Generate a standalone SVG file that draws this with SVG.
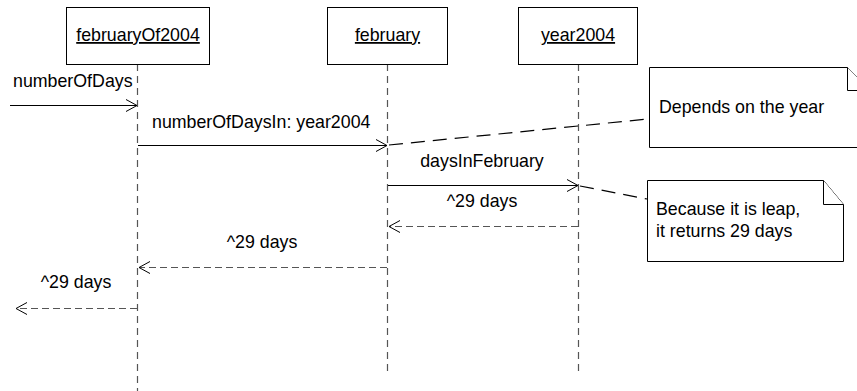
<svg xmlns="http://www.w3.org/2000/svg" width="857" height="391" viewBox="0 0 857 391">
<style>
text{font-family:"Liberation Sans",Arial,sans-serif;font-size:17.8px;fill:#000}
.box{fill:#fff;stroke:#000;stroke-width:1}
.life{stroke:#555;stroke-width:1.2;stroke-dasharray:7,5;fill:none}
.msg{stroke:#000;stroke-width:1;fill:none}
.ret{stroke:#555;stroke-width:1.2;stroke-dasharray:7,4;fill:none}
.anc{stroke:#000;stroke-width:1.2;stroke-dasharray:14,8;fill:none}
.head{stroke:#000;stroke-width:1;fill:none}
.note{fill:#fff;stroke:#000;stroke-width:1}
</style>
<defs>
<marker id="open" markerWidth="14" markerHeight="14" refX="12" refY="7" orient="auto" markerUnits="userSpaceOnUse">
<path d="M1,1 L12,7 L1,13" class="head"/>
</marker>
</defs>
<g id="lifelines">
<line class="life" x1="137.5" y1="64" x2="137.5" y2="391"/>
<line class="life" x1="387.5" y1="64" x2="387.5" y2="374"/>
<line class="life" x1="578.5" y1="64" x2="578.5" y2="373"/>
</g>
<g id="node-februaryOf2004">
<rect class="box" x="66.5" y="7.5" width="143" height="57"/>
<text x="138" y="41" text-anchor="middle" text-decoration="underline">februaryOf2004</text>
</g>
<g id="node-february">
<rect class="box" x="327.5" y="7.5" width="120" height="57"/>
<text x="387.5" y="41" text-anchor="middle" text-decoration="underline">february</text>
</g>
<g id="node-year2004">
<rect class="box" x="518.5" y="7.5" width="119" height="57"/>
<text x="578" y="41" text-anchor="middle" text-decoration="underline">year2004</text>
</g>
<g id="connectors">
<line class="msg" x1="10" y1="105.5" x2="137" y2="105.5" marker-end="url(#open)"/>
<line class="msg" x1="138" y1="145.5" x2="387" y2="145.5" marker-end="url(#open)"/>
<line class="msg" x1="388" y1="185.5" x2="578" y2="185.5" marker-end="url(#open)"/>
<line class="ret" x1="578" y1="226.5" x2="389" y2="226.5" marker-end="url(#open)"/>
<line class="ret" x1="387" y1="267.5" x2="139" y2="267.5" marker-end="url(#open)"/>
<line class="ret" x1="137" y1="308.5" x2="16" y2="308.5" marker-end="url(#open)"/>
<line class="anc" x1="389" y1="145" x2="648" y2="119"/>
<line class="anc" x1="580" y1="186" x2="647" y2="199"/>
</g>
<g id="labels">
<text x="13" y="87">numberOfDays</text>
<text x="152" y="128">numberOfDaysIn: year2004</text>
<text x="482" y="167" text-anchor="middle">daysInFebruary</text>
<text x="482" y="207" text-anchor="middle">^29 days</text>
<text x="262" y="248" text-anchor="middle">^29 days</text>
<text x="76" y="288" text-anchor="middle">^29 days</text>
</g>
<g id="note-depends">
<path class="note" d="M649.5,67.5 L847.5,67.5 L870.5,90.5 L870.5,147.5 L649.5,147.5 Z"/>
<path class="note" d="M847.5,67.5 L847.5,90.5 L870.5,90.5" fill="none"/>
<text x="659" y="113">Depends on the year</text>
</g>
<g id="note-leap">
<path class="note" d="M647.5,180.5 L823.5,180.5 L843.5,204.5 L843.5,261.5 L647.5,261.5 Z"/>
<path class="note" d="M823.5,180.5 L823.5,204.5 L843.5,204.5" fill="none"/>
<text x="656" y="215">Because it is leap,</text>
<text x="656" y="237">it returns 29 days</text>
</g>
</svg>
